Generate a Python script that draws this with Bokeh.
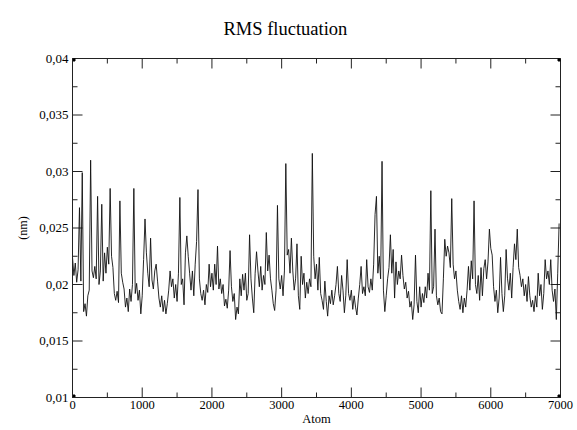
import math
from bokeh.plotting import figure
from bokeh.models import FixedTicker, LinearAxis, Range1d
from bokeh.embed import file_html
from bokeh.resources import INLINE

# ---- data -------------------------------------------------------------
atom_step = 20
rmsf_nm = [
    # 0 - 180
    0.0224, 0.0208, 0.0219, 0.0202, 0.0213, 0.0268, 0.0203, 0.0299, 0.0176, 0.0183,
    # 200 - 380
    0.0172, 0.0190, 0.0195, 0.0310, 0.0212, 0.0206, 0.0216, 0.0205, 0.0278, 0.0200,
    # 400 - 580
    0.0212, 0.0271, 0.0203, 0.0228, 0.0210, 0.0233, 0.0218, 0.0285, 0.0225, 0.0215,
    # 600 - 780
    0.0192, 0.0186, 0.0194, 0.0184, 0.0274, 0.0210, 0.0202, 0.0196, 0.0180, 0.0188,
    # 800 - 980
    0.0176, 0.0196, 0.0185, 0.0200, 0.0285, 0.0192, 0.0201, 0.0186, 0.0195, 0.0174,
    # 1000 - 1180
    0.0190, 0.0222, 0.0258, 0.0228, 0.0210, 0.0198, 0.0241, 0.0204, 0.0196, 0.0212,
    # 1200 - 1380
    0.0218, 0.0203, 0.0188, 0.0180, 0.0190, 0.0176, 0.0186, 0.0174, 0.0183, 0.0195,
    # 1400 - 1580
    0.0212, 0.0198, 0.0205, 0.0188, 0.0200, 0.0185, 0.0210, 0.0277, 0.0200, 0.0205,
    # 1600 - 1780
    0.0182, 0.0228, 0.0243, 0.0225, 0.0210, 0.0195, 0.0212, 0.0190, 0.0218, 0.0238,
    # 1800 - 1980
    0.0284, 0.0205, 0.0192, 0.0186, 0.0195, 0.0182, 0.0200, 0.0193, 0.0218, 0.0198,
    # 2000 - 2180
    0.0210, 0.0195, 0.0218, 0.0200, 0.0234, 0.0196, 0.0205, 0.0192, 0.0200, 0.0181,
    # 2200 - 2380
    0.0187, 0.0179, 0.0195, 0.0230, 0.0198, 0.0185, 0.0192, 0.0169, 0.0180, 0.0174,
    # 2400 - 2580
    0.0205, 0.0190, 0.0209, 0.0195, 0.0210, 0.0186, 0.0192, 0.0244, 0.0205, 0.0188,
    # 2600 - 2780
    0.0175, 0.0210, 0.0229, 0.0212, 0.0198, 0.0216, 0.0195, 0.0208, 0.0200, 0.0246,
    # 2800 - 2980
    0.0212, 0.0226, 0.0205, 0.0195, 0.0183, 0.0177, 0.0195, 0.0270, 0.0205, 0.0196,
    # 3000 - 3180
    0.0208, 0.0190, 0.0212, 0.0307, 0.0226, 0.0231, 0.0210, 0.0241, 0.0212, 0.0195,
    # 3200 - 3380
    0.0205, 0.0236, 0.0190, 0.0178, 0.0225, 0.0200, 0.0210, 0.0188, 0.0202, 0.0192,
    # 3400 - 3580
    0.0205, 0.0198, 0.0316, 0.0225, 0.0205, 0.0218, 0.0195, 0.0224, 0.0192, 0.0186,
    # 3600 - 3780
    0.0178, 0.0203, 0.0185, 0.0172, 0.0190, 0.0183, 0.0195, 0.0182, 0.0190, 0.0200,
    # 3800 - 3980
    0.0216, 0.0192, 0.0185, 0.0208, 0.0195, 0.0175, 0.0190, 0.0222, 0.0192, 0.0186,
    # 4000 - 4180
    0.0195, 0.0178, 0.0190, 0.0180, 0.0173, 0.0188, 0.0200, 0.0216, 0.0192, 0.0198,
    # 4200 - 4380
    0.0190, 0.0222, 0.0198, 0.0193, 0.0205, 0.0195, 0.0218, 0.0262, 0.0278, 0.0210,
    # 4400 - 4580
    0.0225, 0.0205, 0.0309, 0.0195, 0.0176, 0.0190, 0.0205, 0.0215, 0.0244, 0.0210,
    # 4600 - 4780
    0.0231, 0.0188, 0.0220, 0.0200, 0.0212, 0.0205, 0.0226, 0.0208, 0.0196, 0.0202,
    # 4800 - 4980
    0.0188, 0.0194, 0.0180, 0.0185, 0.0169, 0.0182, 0.0226, 0.0185, 0.0175, 0.0198,
    # 5000 - 5180
    0.0180, 0.0192, 0.0184, 0.0198, 0.0188, 0.0210, 0.0195, 0.0283, 0.0192, 0.0198,
    # 5200 - 5380
    0.0249, 0.0190, 0.0182, 0.0188, 0.0176, 0.0174, 0.0205, 0.0240, 0.0225, 0.0234,
    # 5400 - 5580
    0.0228, 0.0215, 0.0276, 0.0218, 0.0205, 0.0212, 0.0195, 0.0185, 0.0178, 0.0190,
    # 5600 - 5780
    0.0175, 0.0188, 0.0180, 0.0195, 0.0216, 0.0195, 0.0221, 0.0205, 0.0274, 0.0200,
    # 5800 - 5980
    0.0192, 0.0208, 0.0186, 0.0215, 0.0190, 0.0214, 0.0222, 0.0205, 0.0220, 0.0249,
    # 6000 - 6180
    0.0232, 0.0226, 0.0198, 0.0185, 0.0195, 0.0175, 0.0188, 0.0224, 0.0192, 0.0176,
    # 6200 - 6380
    0.0190, 0.0231, 0.0205, 0.0195, 0.0210, 0.0188, 0.0215, 0.0236, 0.0222, 0.0249,
    # 6400 - 6580
    0.0215, 0.0208, 0.0198, 0.0205, 0.0190, 0.0200, 0.0185, 0.0207, 0.0190, 0.0180,
    # 6600 - 6780
    0.0186, 0.0176, 0.0190, 0.0180, 0.0210, 0.0190, 0.0200, 0.0178, 0.0192, 0.0222,
    # 6800 - 6980
    0.0205, 0.0212, 0.0200, 0.0222, 0.0195, 0.0185, 0.0196, 0.0169, 0.0210, 0.0254,
]
atoms = [i * atom_step for i in range(len(rmsf_nm))]

x_limits = [0, 7000]
y_limits = [0.01, 0.04]
x_major = [0, 1000, 2000, 3000, 4000, 5000, 6000, 7000]
x_minor = [500, 1500, 2500, 3500, 4500, 5500, 6500]
x_tick_labels = ["0", "1000", "2000", "3000", "4000", "5000", "6000", "7000"]
y_major = [0.01, 0.015, 0.02, 0.025, 0.03, 0.035, 0.04]
y_minor = [0.0125, 0.0175, 0.0225, 0.0275, 0.0325, 0.0375]
y_tick_labels = ["0,01", "0,015", "0,02", "0,025", "0,03", "0,035", "0,04"]

title_text = "RMS fluctuation"
x_label = "Atom"
y_label = "(nm)"

SERIF = "Liberation Serif"
INK = "#222222"

# ---- figure -----------------------------------------------------------
p = figure(width=575, height=428, output_backend="svg", toolbar_location=None,
           x_range=Range1d(x_limits[0], x_limits[1]),
           y_range=Range1d(y_limits[0], y_limits[1]),
           x_axis_location=None, y_axis_location=None,
           min_border_left=72, min_border_right=15, min_border_top=58,
           min_border_bottom=30)
p.background_fill_color = "white"
p.border_fill_color = "white"
p.outline_line_color = INK
p.outline_line_width = 1
p.xgrid.visible = False
p.ygrid.visible = False

p.title.text = title_text
p.title.text_font = SERIF
p.title.text_font_size = "18.5px"
p.title.text_font_style = "normal"
p.title.align = "left"
p.title.offset = 151
p.title.vertical_align = "top"
p.title.standoff = 36
p.title.text_color = "black"


def style_axis(ax, label_size, title_size):
    ax.axis_line_color = INK
    ax.major_tick_in = 0
    ax.major_tick_out = 0
    ax.minor_tick_in = 0
    ax.minor_tick_out = 0
    ax.major_label_text_font = SERIF
    ax.axis_label_text_font = SERIF
    ax.axis_label_text_font_style = "normal"
    ax.major_label_text_color = "black"
    ax.axis_label_text_color = "black"
    ax.major_label_text_font_size = label_size
    ax.axis_label_text_font_size = title_size


xt = FixedTicker(ticks=x_major, minor_ticks=x_minor)
yt = FixedTicker(ticks=y_major, minor_ticks=y_minor)

bottom = LinearAxis(ticker=xt, axis_label=x_label)
bottom.major_label_overrides = dict(zip(x_major, x_tick_labels))
style_axis(bottom, "12.5px", "12.5px")
bottom.major_label_standoff = 3
bottom.axis_label_standoff = 0
p.add_layout(bottom, "below")

left = LinearAxis(ticker=yt, axis_label=y_label)
left.major_label_overrides = dict(zip(y_major, y_tick_labels))
style_axis(left, "13px", "12px")
left.major_label_standoff = 4
left.axis_label_standoff = 6
p.add_layout(left, "left")


# inward tick marks on all four sides (half of each dash is clipped by the frame)
def side_ticks(xs, ys, size, angle):
    p.scatter(xs, ys, marker="dash", size=size, angle=angle,
              line_color=INK, line_width=1)


for ticks, size in ((x_major, 20), (x_minor, 10)):
    side_ticks(ticks, [y_limits[0]] * len(ticks), size, math.pi / 2)
    side_ticks(ticks, [y_limits[1]] * len(ticks), size, math.pi / 2)
for ticks, size in ((y_major, 20), (y_minor, 10)):
    side_ticks([x_limits[0]] * len(ticks), ticks, size, 0)
    side_ticks([x_limits[1]] * len(ticks), ticks, size, 0)

p.line(atoms, rmsf_nm, line_color="#111111", line_width=0.9)

corner_x = [x_limits[0], x_limits[1], x_limits[0], x_limits[1]]
corner_y = [y_limits[0], y_limits[0], y_limits[1], y_limits[1]]
p.scatter(corner_x, corner_y, marker="square", size=5, color="black")

open("out.html", "w").write(file_html(p, INLINE))
